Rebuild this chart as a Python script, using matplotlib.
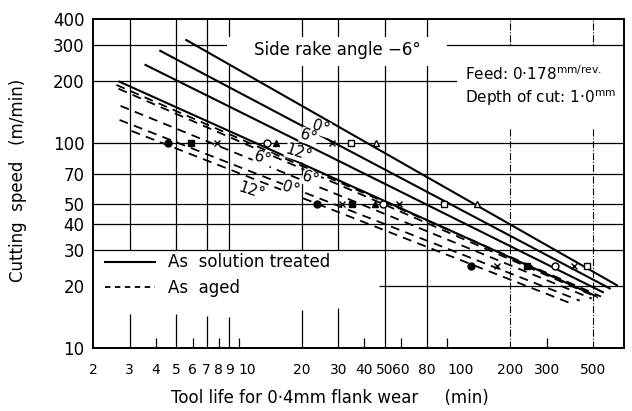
import numpy as np
import matplotlib.pyplot as plt
from matplotlib.lines import Line2D
from matplotlib.patches import Rectangle

# fitted lines: tool life (min) and cutting speed (m/min) at both ends
st_life = [[5.6, 650], [4.2, 600], [3.57, 556], [2.68, 515]]
st_speed = [[316, 20.2], [280, 19.5], [239, 18.7], [198, 17.9]]
aged_life = [[2.59, 545], [2.65, 526], [2.71, 492], [2.68, 431], [3.06, 390]]
aged_speed = [[191, 17.8], [183, 17.6], [151, 17.4], [129, 17.0], [114, 16.5]]

# test points
tri_open_x, tri_open_y = [45.6, 138], [100, 50]
sq_open_x, sq_open_y = [34.5, 96.8, 466], [100, 50, 25]
cross_st_x, cross_st_y = [28, 58.8, 403], [100, 50, 25]
circ_open_x, circ_open_y = [13.6, 49.2, 327], [100, 50, 25]
tri_fill_x, tri_fill_y = [15.1, 45], [100, 50]
sq_fill_x, sq_fill_y = [5.9, 34.9, 240], [100, 50, 25]
cross_aged_x, cross_aged_y = [7.9, 31.3, 172], [100, 50, 25]
circ_fill_x, circ_fill_y = [4.6, 23.7, 129], [100, 50, 25]

# angle labels along the lines
angle_text = ['0°', '6°', '12°', '6°', '6°', '12°', '0°']
angle_x = [24.8, 21.7, 19.4, 13.0, 22.2, 11.5, 17.8]
angle_y = [118, 107, 89, 83.6, 66.9, 58.4, 59.8]

xticks = [2, 3, 4, 5, 6, 7, 8, 9, 10, 20, 30, 40, 50, 60, 80, 100, 200, 300, 500]
yticks = [10, 20, 30, 40, 50, 70, 100, 200, 300, 400]

fig = plt.figure(figsize=(6.32, 4.11), dpi=100)
ax = fig.add_axes([93/632, 63/411, 531/632, 329/411])
ax.set_xscale('log')
ax.set_yscale('log')
ax.set_xlim(2, 702)
ax.set_ylim(10, 400)

# hand drawn style grid
g = dict(color='black', lw=0.9, zorder=1)
for yv in [30, 40, 50, 70, 100, 200, 300]:
    ax.axhline(yv, **g)
ax.hlines(20, 47, 702, **g)
ax.vlines([3, 5, 7, 9, 20, 30], 30, 400, **g)
ax.vlines([50, 80], 10, 400, **g)
ax.vlines([200, 500], 10, 400, color='black', lw=0.8, ls='-.', zorder=1)
ax.vlines([3, 5, 7, 9, 20, 30], 10, [14.6, 14.6, 14.3, 14.1, 15.3, 15.6], **g)
ax.vlines([4, 6, 8, 10, 40, 60, 100, 300], 10, 11.2, **g)

# white areas behind the notes
ax.add_patch(Rectangle((0.252, 0.857), 0.415, 0.088, transform=ax.transAxes,
                       fc='white', ec='none', zorder=1.5))
ax.add_patch(Rectangle((0.685, 0.669), 0.313, 0.246, transform=ax.transAxes,
                       fc='white', ec='none', zorder=1.5))

for lx, ly in zip(st_life, st_speed):
    ax.plot(lx, ly, color='black', lw=1.5, zorder=3)
for lx, ly in zip(aged_life, aged_speed):
    ax.plot(lx, ly, color='black', lw=1.3, dashes=(5, 3.5), zorder=3)

mk = dict(color='black', ms=5, ls='none', zorder=4)
ax.plot(tri_open_x, tri_open_y, marker='^', mfc='white', mec='black', **mk)
ax.plot(sq_open_x, sq_open_y, marker='s', mfc='white', mec='black', **mk)
ax.plot(circ_open_x, circ_open_y, marker='o', mfc='white', mec='black', **mk)
ax.plot(cross_st_x, cross_st_y, marker='x', mew=1, **mk)
ax.plot(tri_fill_x, tri_fill_y, marker='^', **mk)
ax.plot(sq_fill_x, sq_fill_y, marker='s', **mk)
ax.plot(cross_aged_x, cross_aged_y, marker='x', mew=1, **mk)
ax.plot(circ_fill_x, circ_fill_y, marker='o', **mk)

for t, xv, yv in zip(angle_text, angle_x, angle_y):
    ax.text(xv, yv, t, fontsize=11, rotation=-18, ha='center', va='center', zorder=5,
            bbox=dict(fc='white', ec='none', pad=0.2))

ax.text(0.46, 0.905, 'Side rake angle \u22126°', transform=ax.transAxes, fontsize=12,
        ha='center', va='center', zorder=5)
ax.text(0.70, 0.835, 'Feed: 0·178$^{\\mathregular{mm/rev.}}$', transform=ax.transAxes,
        fontsize=11, ha='left', va='center', zorder=5)
ax.text(0.70, 0.76, 'Depth of cut: 1·0$^{\\mathregular{mm}}$', transform=ax.transAxes,
        fontsize=11, ha='left', va='center', zorder=5)

handles = [Line2D([], [], color='black', lw=1.5),
           Line2D([], [], color='black', lw=1.3, dashes=(3, 2.5))]
ax.legend(handles, ['As  solution treated', 'As  aged'], loc='lower left',
          bbox_to_anchor=(0.01, 0.135), frameon=False, fontsize=12,
          handlelength=3.0, handletextpad=0.8, labelspacing=0.45, borderaxespad=0)

ax.minorticks_off()
ax.set_xticks(xticks)
ax.set_xticklabels([str(v) for v in xticks], fontsize=10)
ax.set_yticks(yticks)
ax.set_yticklabels([str(v) for v in yticks], fontsize=12)
ax.tick_params(length=0)
ax.tick_params(axis='x', pad=11)
ax.tick_params(axis='y', pad=6)
for lab in ax.get_xticklabels():
    if lab.get_text() in ('10', '100'):
        lab.set_ha('left')
for s in ax.spines.values():
    s.set_linewidth(1.4)

fig.text(330/632, 1 - 398/411, 'Tool life for 0·4mm flank wear     (min)',
         fontsize=12, ha='center', va='center')
fig.text(18/632, 1 - 180/411, 'Cutting  speed   (m/min)', fontsize=12,
         rotation=90, ha='center', va='center')

fig.savefig('out.png', dpi=100)
